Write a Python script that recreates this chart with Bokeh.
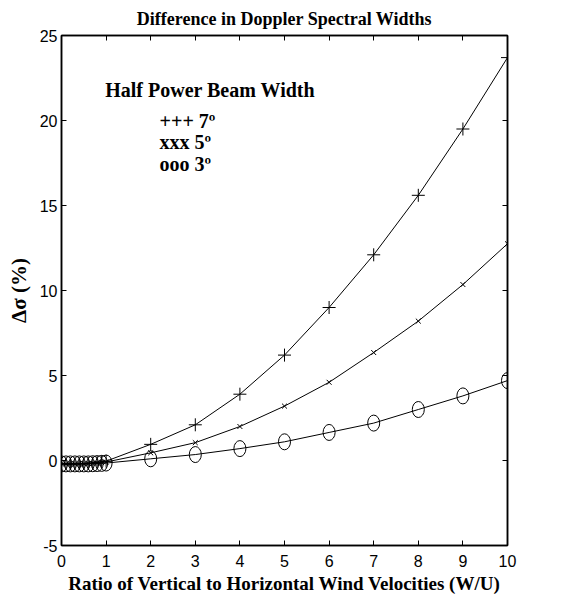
from bokeh.plotting import figure
from bokeh.models import LinearAxis, Range1d, FixedTicker, Label
from bokeh.embed import file_html
from bokeh.resources import INLINE

# ---- data ----
ratio = [0.0, 0.1, 0.2, 0.3, 0.4, 0.5, 0.6, 0.7, 0.8, 0.9, 1.0,
         2, 3, 4, 5, 6, 7, 8, 9, 10]
beam7 = [-0.2, -0.2, -0.2, -0.2, -0.19, -0.18, -0.17, -0.15, -0.12, -0.08, -0.04,
         0.95, 2.1, 3.9, 6.2, 9.0, 12.1, 15.6, 19.5, 23.7]
beam5 = [-0.2, -0.2, -0.2, -0.2, -0.2, -0.19, -0.18, -0.17, -0.15, -0.12, -0.09,
         0.45, 1.05, 2.0, 3.2, 4.6, 6.35, 8.2, 10.35, 12.75]
beam3 = [-0.2, -0.2, -0.2, -0.2, -0.2, -0.2, -0.2, -0.19, -0.18, -0.17, -0.15,
         0.1, 0.35, 0.7, 1.1, 1.65, 2.2, 3.0, 3.8, 4.7]
x_ticks = [0, 1, 2, 3, 4, 5, 6, 7, 8, 9, 10]
y_ticks = [-5, 0, 5, 10, 15, 20, 25]
legend_title = "Half Power Beam Width"
legend_rows = ["+++  7º", "xxx  5º", "ooo  3º"]

SERIF = "Liberation Serif"
SANS = "Liberation Sans"

p = figure(width=568, height=598, output_backend="svg", toolbar_location=None,
           x_range=Range1d(0, 10), y_range=Range1d(-5, 25),
           min_border_left=61, min_border_right=61, min_border_top=35, min_border_bottom=53)
p.title.text = "Difference in Doppler Spectral Widths"
p.title.align = "center"
p.title.text_font = SERIF
p.title.text_font_style = "bold"
p.title.text_font_size = "18px"
p.title.text_color = "black"
p.title.standoff = 13

p.grid.visible = False
p.outline_line_color = "black"
p.outline_line_width = 1.5

def style_axis(ax, labels=True):
    ax.axis_line_color = "black"
    ax.axis_line_width = 1.5
    ax.major_tick_in = 5
    ax.major_tick_out = 0
    ax.minor_tick_in = 0
    ax.minor_tick_out = 0
    ax.major_tick_line_color = "black"
    ax.major_tick_line_width = 1
    if labels:
        ax.major_label_text_font = SANS
        ax.major_label_text_font_size = "16px"
        ax.major_label_text_color = "black"
    else:
        ax.major_label_overrides = {t: "" for t in ax.ticker.ticks}
        ax.major_label_standoff = 0

xa = p.xaxis[0]
xa.ticker = FixedTicker(ticks=x_ticks)
style_axis(xa)
xa.major_label_standoff = 9
xa.axis_label = "Ratio of Vertical to Horizontal Wind Velocities (W/U)"
xa.axis_label_text_font = SERIF
xa.axis_label_text_font_style = "bold"
xa.axis_label_text_font_size = "19px"
xa.axis_label_text_color = "black"
xa.axis_label_standoff = 3

ya = p.yaxis[0]
ya.ticker = FixedTicker(ticks=y_ticks)
style_axis(ya)
ya.major_label_overrides = {t: str(t) for t in y_ticks}
ya.major_label_standoff = 4
ya.axis_label = "Δσ (%)"
ya.axis_label_text_font = SERIF
ya.axis_label_text_font_style = "bold"
ya.axis_label_text_font_size = "21px"
ya.axis_label_text_color = "black"
ya.axis_label_standoff = 6

top = LinearAxis(ticker=FixedTicker(ticks=x_ticks))
style_axis(top, labels=False)
p.add_layout(top, "above")
right = LinearAxis(ticker=FixedTicker(ticks=y_ticks))
style_axis(right, labels=False)
p.add_layout(right, "right")

# curves
for ys in (beam7, beam5, beam3):
    p.line(ratio, ys, line_color="black", line_width=1)

p.scatter(ratio, beam7, marker="cross", size=13, line_color="black", line_width=1)
p.scatter(ratio, beam5, marker="x", size=7, line_color="black", line_width=1)
p.ellipse(ratio, beam3, width=12, height=16, width_units="screen", height_units="screen",
          fill_color=None, line_color="black", line_width=1)

# legend text
p.add_layout(Label(x=0.98, y=21.8, text=legend_title, text_font=SERIF, text_font_style="bold",
                   text_font_size="20px", text_baseline="middle", text_color="black"))
for i, row in enumerate(legend_rows):
    p.add_layout(Label(x=2.2, y=19.95 - 1.24 * i, text=row, text_font=SERIF, text_font_style="bold",
                       text_font_size="20px", text_baseline="middle", text_color="black"))

open("out.html", "w").write(file_html(p, INLINE))
